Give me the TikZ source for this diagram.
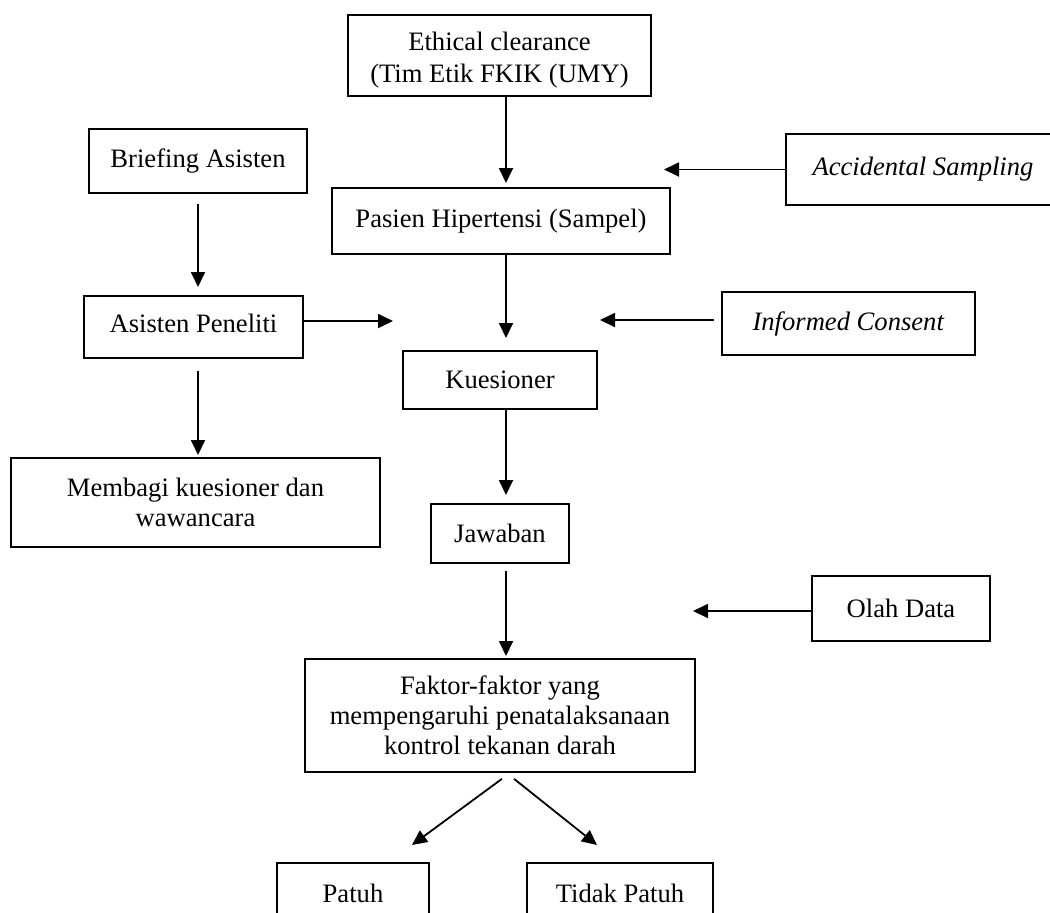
\documentclass[tikz,border=0pt]{standalone}
\usepackage{fontspec}
\setmainfont{Liberation Serif}
\usetikzlibrary{arrows.meta}

\tikzset{
  kotak/.style={draw, line width=0.9pt, inner sep=0pt, align=center, font=\fontsize{13.3}{15}\selectfont},
  panah/.style={-{Triangle[length=7.5pt,width=7pt]}, line width=0.9pt}
}

\begin{document}
\begin{tikzpicture}[x=0.5pt,y=-0.5pt]
\useasboundingbox (0,0) rectangle (1050,912);
\clip (0,0) rectangle (1050,912);
% kotak-kotak
\node[kotak, minimum width=151.5pt, minimum height=40.5pt, font=\fontsize{13.3}{16}\selectfont] (etik) at (499.5,55.5) {\raisebox{-2.5pt}[\height][\depth]{\begin{tabular}{@{}c@{}}Ethical clearance\\(Tim Etik FKIK (UMY)\end{tabular}}};
\node[kotak, minimum width=109pt, minimum height=32pt] (briefing) at (198,161) {Briefing Asisten};
\node[kotak, minimum width=137pt, minimum height=35.5pt] (accidental) at (923,169.5) {\textit{Accidental Sampling}};
\node[kotak, minimum width=169pt, minimum height=33pt] (pasien) at (501,221) {Pasien Hipertensi (Sampel)};
\node[kotak, minimum width=109.5pt, minimum height=31pt] (asisten) at (193.5,327) {\raisebox{2pt}[\height][\depth]{Asisten Peneliti}};
\node[kotak, minimum width=126.5pt, minimum height=31.5pt] (informed) at (848.5,323.5) {\textit{Informed Consent}};
\node[kotak, minimum width=97pt, minimum height=29pt] (kuesioner) at (500,380) {Kuesioner};
\node[kotak, minimum width=184.5pt, minimum height=44.5pt] (membagi) at (195.5,502.5) {Membagi kuesioner dan\\wawancara};
\node[kotak, minimum width=69pt, minimum height=29.5pt] (jawaban) at (500,533.5) {Jawaban};
\node[kotak, minimum width=89pt, minimum height=32.5pt] (olah) at (901,608.5) {Olah Data};
\node[kotak, minimum width=195pt, minimum height=56.5pt] (faktor) at (500,715.5) {Faktor-faktor yang\\mempengaruhi penatalaksanaan\\kontrol tekanan darah};
\node[kotak, minimum width=76pt, minimum height=30pt] (patuh) at (353,893) {Patuh};
\node[kotak, minimum width=93pt, minimum height=30pt] (tidak) at (620,893) {Tidak Patuh};

% ujung panah
\coordinate (t1) at (506,183);
\coordinate (t2) at (664,169.5);
\coordinate (t3) at (198,287);
\coordinate (t4) at (393,321);
\coordinate (t5) at (506,338);
\coordinate (t6) at (600,320);
\coordinate (t7) at (198,455);
\coordinate (t8) at (506,495);
\coordinate (t9) at (506,656);
\coordinate (t10) at (693,611);
\coordinate (t11) at (412,845);
\coordinate (t12) at (597,845);

% panah
\draw[panah] (etik.south -| t1) -- (t1);
\draw[panah] (accidental.west) -- (t2);
\draw[panah, shorten <=5pt] (briefing.south) -- (t3);
\draw[panah] (asisten.east |- t4) -- (t4);
\draw[panah] (pasien.south -| t5) -- (t5);
\draw[panah, shorten <=3.5pt] (informed.west |- t6) -- (t6);
\draw[panah, shorten <=6pt] (asisten.south -| t7) -- (t7);
\draw[panah] (kuesioner.south -| t8) -- (t8);
\draw[panah, shorten <=3.5pt] (jawaban.south -| t9) -- (t9);
\draw[panah] (olah.west |- t10) -- (t10);
\draw[panah, shorten <=5pt] ([xshift=5pt]faktor.south) -- (t11);
\draw[panah, shorten <=4.75pt] ([xshift=3.3pt]faktor.south) -- (t12);
\end{tikzpicture}
\end{document}
